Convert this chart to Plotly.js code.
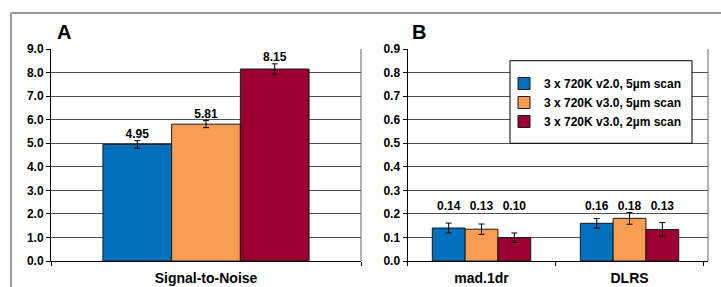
<!DOCTYPE html>
<html>
<head>
<meta charset="utf-8">
<script src="https://cdn.plot.ly/plotly-3.0.1.min.js"></script>
<style>html,body{margin:0;padding:0;background:#fff;}#chart{width:721px;height:287px;}</style>
</head>
<body>
<div id="chart"></div>
<script>
// ---- data ----
const seriesNames = ['3 x 720K v2.0, 5\u00b5m scan', '3 x 720K v3.0, 5\u00b5m scan', '3 x 720K v3.0, 2\u00b5m scan'];
const seriesColors = ['#0070BD', '#F79E53', '#990030'];

const catsA = ['Signal-to-Noise'];
const snrValues = [[4.95], [5.81], [8.15]];
const snrErrors = [[0.16], [0.15], [0.22]];
const snrLabels = [['4.95'], ['5.81'], ['8.15']];

const catsB = ['mad.1dr', 'DLRS'];
const bValues = [[0.14, 0.16], [0.135, 0.181], [0.099, 0.134]];
const bErrors = [[0.021, 0.02], [0.022, 0.025], [0.02, 0.029]];
const bLabels = [['0.14', '0.16'], ['0.13', '0.18'], ['0.10', '0.13']];
const bLabelHeight = 0.229;

const ticksA = [0, 1, 2, 3, 4, 5, 6, 7, 8, 9];
const ticksB = [0, 0.1, 0.2, 0.3, 0.4, 0.5, 0.6, 0.7, 0.8, 0.9];

// ---- traces ----
const FONT = 'Liberation Sans, Arial, sans-serif';
const traces = [];
for (let i = 0; i < 3; i++) {
  traces.push({
    type: 'bar', x: catsA, y: snrValues[i], xaxis: 'x', yaxis: 'y',
    name: seriesNames[i], legendgroup: 'g' + i, showlegend: true,
    offsetgroup: String(i),
    marker: {color: seriesColors[i], line: {color: '#1a1a1a', width: 1}},
    error_y: {type: 'data', array: snrErrors[i], visible: true, color: '#000', thickness: 1, width: 3}
  });
  traces.push({
    type: 'bar', x: catsB, y: bValues[i], xaxis: 'x2', yaxis: 'y2',
    name: seriesNames[i], legendgroup: 'g' + i, showlegend: false,
    offsetgroup: String(i),
    marker: {color: seriesColors[i], line: {color: '#1a1a1a', width: 1}},
    error_y: {type: 'data', array: bErrors[i], visible: true, color: '#000', thickness: 1, width: 3}
  });
}
for (let i = 0; i < 3; i++) {
  traces.push({
    type: 'scatter', mode: 'text', x: catsA,
    y: snrValues[i].map((v, j) => v + snrErrors[i][j]), text: snrLabels[i],
    textposition: 'top center', xaxis: 'x', yaxis: 'y', showlegend: false,
    offsetgroup: String(i), cliponaxis: false,
    textfont: {family: FONT, size: 12, color: '#000', weight: 'bold'}
  });
  traces.push({
    type: 'scatter', mode: 'text', x: catsB, y: catsB.map(() => bLabelHeight), text: bLabels[i],
    textposition: 'middle center', xaxis: 'x2', yaxis: 'y2', showlegend: false,
    offsetgroup: String(i), cliponaxis: false,
    textfont: {family: FONT, size: 12, color: '#000', weight: 'bold'}
  });
}

const W = 721, H = 287;
const px = v => v / W, py = v => (H - v) / H;

const yCommon = {
  showline: true, linecolor: '#000', linewidth: 1,
  ticks: 'outside', ticklen: 4, tickcolor: '#000',
  showgrid: true, gridcolor: '#505050', gridwidth: 1, zeroline: false,
  tickfont: {family: FONT, size: 12, color: '#000', weight: 'bold'},
  tickformat: '.1f', fixedrange: true
};
const xCommon = {
  type: 'category', showline: true, linecolor: '#000', linewidth: 1,
  ticks: 'outside', ticklen: 4, tickcolor: '#000', tickson: 'boundaries',
  showgrid: false, zeroline: false, ticklabelstandoff: 4,
  tickfont: {family: FONT, size: 14, color: '#000', weight: 'bold'}, fixedrange: true
};

const layout = {
  width: W, height: H,
  margin: {l: 0, r: 0, t: 0, b: 0},
  paper_bgcolor: '#fff', plot_bgcolor: '#fff',
  barmode: 'group', bargap: 0.335, bargroupgap: 0,
  scattermode: 'group', scattergap: 0.335,
  hovermode: false,
  showlegend: true,
  xaxis: Object.assign({}, xCommon, {domain: [px(51), px(361)], anchor: 'y'}),
  yaxis: Object.assign({}, yCommon, {domain: [py(261), py(49)], range: [0, 9], tickvals: ticksA, anchor: 'x'}),
  xaxis2: Object.assign({}, xCommon, {domain: [px(407.5), px(708)], anchor: 'y2', range: [-0.5, 1.53]}),
  yaxis2: Object.assign({}, yCommon, {domain: [py(261), py(49)], range: [0, 0.9], tickvals: ticksB, anchor: 'x2'}),
  legend: {
    x: px(504), y: py(102.5), xanchor: 'left', yanchor: 'middle',
    bgcolor: 'rgba(0,0,0,0)', borderwidth: 0,
    font: {family: FONT, size: 12, color: '#000', weight: 'bold'},
    tracegroupgap: 5.5, traceorder: 'normal'
  },
  shapes: [
    {type: 'line', xref: 'x domain', yref: 'y domain', x0: 1, x1: 1, y0: 0, y1: 1, line: {color: '#999', width: 1.5}, layer: 'below'},
    {type: 'line', xref: 'x2 domain', yref: 'y2 domain', x0: 1, x1: 1, y0: 0, y1: 1, line: {color: '#999', width: 1.5}, layer: 'below'},
    {type: 'line', xref: 'paper', yref: 'paper', x0: px(11), x1: 1.02, y0: py(13), y1: py(13), line: {color: '#999', width: 2}},
    {type: 'line', xref: 'paper', yref: 'paper', x0: px(11), x1: px(11), y0: py(13), y1: -0.05, line: {color: '#999', width: 2}},
    {type: 'rect', xref: 'paper', yref: 'paper', x0: px(510), x1: px(692), y0: py(143.3), y1: py(60.7),
     fillcolor: '#fff', line: {color: '#000', width: 1}, layer: 'above'}
  ],
  annotations: [
    {text: 'A', xref: 'paper', yref: 'paper', x: px(64), y: py(32), xanchor: 'center', yanchor: 'middle', showarrow: false,
     font: {family: FONT, size: 20, color: '#000', weight: 'bold'}},
    {text: 'B', xref: 'paper', yref: 'paper', x: px(419), y: py(32), xanchor: 'center', yanchor: 'middle', showarrow: false,
     font: {family: FONT, size: 20, color: '#000', weight: 'bold'}}
  ]
};

Plotly.newPlot('chart', traces, layout, {displayModeBar: false, staticPlot: true});
</script>
</body>
</html>
